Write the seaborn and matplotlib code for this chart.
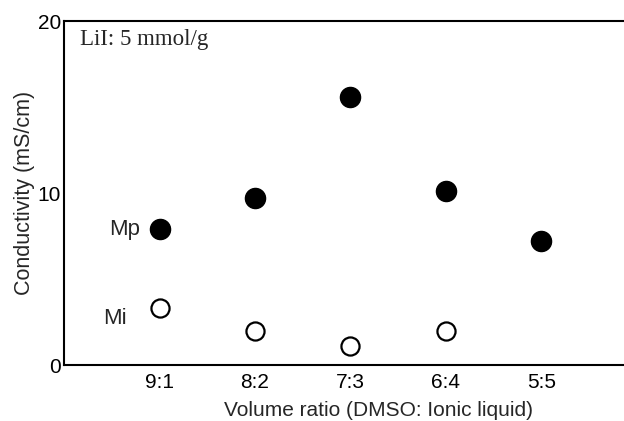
import matplotlib
matplotlib.use("Agg")
import matplotlib.pyplot as plt
import seaborn as sns
import pandas as pd

ratios = ["9:1", "8:2", "7:3", "6:4", "5:5"]
mp_values = [7.9, 9.7, 15.6, 10.1, 7.2]
mi_ratios = ["9:1", "8:2", "7:3", "6:4"]
mi_values = [3.3, 2.0, 1.1, 2.0]
yticks = [0, 10, 20]

sns.set_style("white")
plt.rcParams['font.family'] = ['Liberation Sans', 'DejaVu Sans']

pos = {r: i + 1 for i, r in enumerate(ratios)}
df_mp = pd.DataFrame({"x": [pos[r] for r in ratios], "y": mp_values})
df_mi = pd.DataFrame({"x": [pos[r] for r in mi_ratios], "y": mi_values})

fig = plt.figure(figsize=(6.24, 4.21), dpi=100)
ax = fig.add_axes([0.1026, 0.133, 0.8974, 0.817])

sns.scatterplot(data=df_mp, x="x", y="y", ax=ax, s=210, color="black",
                edgecolor="black", linewidth=1, legend=False, zorder=3)
sns.scatterplot(data=df_mi, x="x", y="y", ax=ax, s=170, facecolor="white",
                edgecolor="black", linewidth=1.6, legend=False, zorder=3)

ax.set_xlim(0, 5.865)
ax.set_ylim(0, 20)
ax.set_xticks(list(pos.values()))
ax.set_xticklabels(ratios)
ax.set_yticks(yticks)
ax.set_yticklabels([str(t) for t in yticks])
ax.tick_params(axis="both", direction="in", length=10, width=1.3, labelsize=15,
               colors="black", pad=2)
ax.tick_params(axis="x", pad=6)
for side in ["left", "top", "bottom"]:
    ax.spines[side].set_visible(True)
    ax.spines[side].set_color("black")
    ax.spines[side].set_linewidth(1.5)
ax.spines["right"].set_visible(False)

ax.set_xlabel("Volume ratio (DMSO: Ionic liquid)", fontsize=15, labelpad=2)
ax.xaxis.set_label_coords(0.561, -0.105)
ax.set_ylabel("Conductivity (mS/cm)", fontsize=15.5, labelpad=2)

ax.text(0.17, 18.9, "LiI: 5 mmol/g", fontsize=16.5, family="Liberation Serif",
        ha="left", va="center")
ax.text(0.63, 7.9, "Mp", fontsize=16, ha="center", va="center")
ax.text(0.53, 2.7, "Mi", fontsize=16, ha="center", va="center")

fig.savefig("out.png", dpi=100)
